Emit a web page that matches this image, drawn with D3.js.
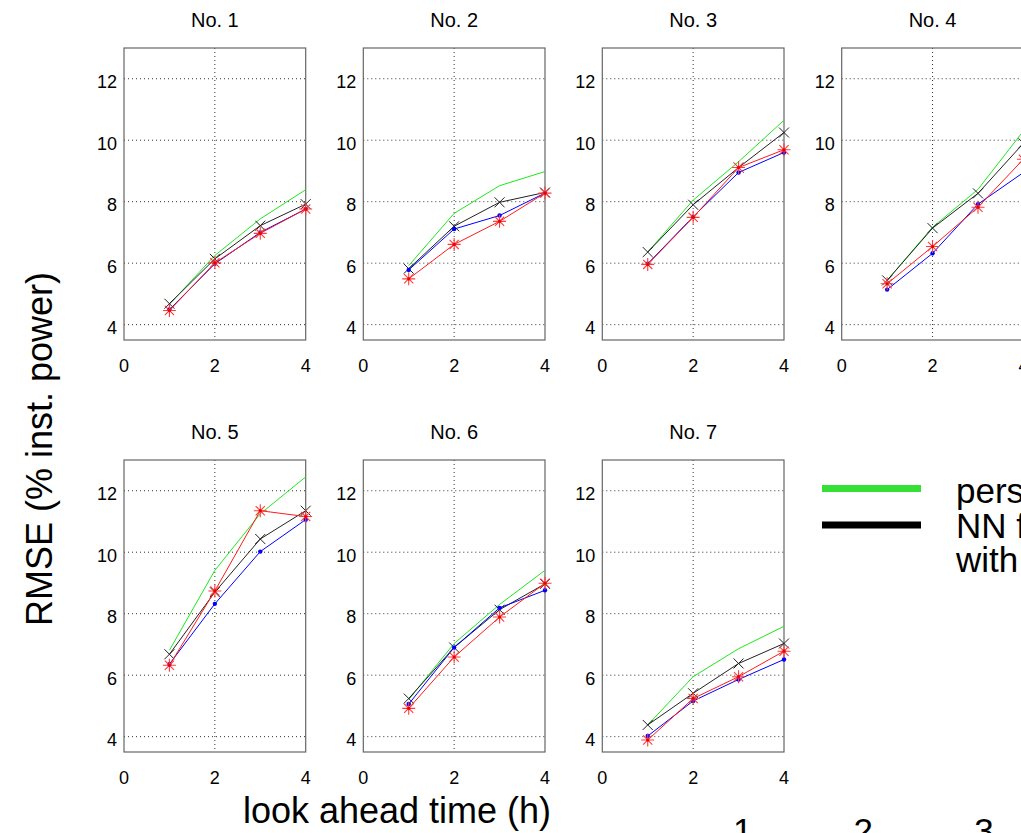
<!DOCTYPE html>
<html>
<head>
<meta charset="utf-8">
<script src="https://cdn.jsdelivr.net/npm/d3@7"></script>
<style>
  html, body { margin: 0; padding: 0; background: #fff; overflow: hidden; }
  svg { display: block; font-family: "Liberation Sans", Arial, sans-serif; }
</style>
</head>
<body>
<svg id="chart" width="1021" height="833"></svg>
<script>
// look ahead times (h) and panel titles
const leadTimes = [1, 2, 3, 4];
const panelTitles = ['No. 1', 'No. 2', 'No. 3', 'No. 4', 'No. 5', 'No. 6', 'No. 7'];
const xTicks = [0, 2, 4];
const yTicks = [4, 6, 8, 10, 12];

// RMSE per panel (rows = panels No. 1..7, cols = lead time 1..4)
const rmsePersistence = [
  [4.66, 6.25, 7.44, 8.39],
  [5.92, 7.62, 8.52, 8.98],
  [6.36, 8.05, 9.30, 10.65],
  [5.44, 7.17, 8.40, 10.30],
  [6.81, 9.41, 11.25, 12.45],
  [5.21, 7.03, 8.30, 9.41],
  [4.38, 5.95, 6.86, 7.59]
];
const rmseNN = [
  [4.68, 6.14, 7.22, 7.92],
  [5.82, 7.20, 7.98, 8.30],
  [6.36, 7.90, 9.11, 10.25],
  [5.44, 7.14, 8.27, 9.90],
  [6.68, 8.70, 10.43, 11.35],
  [5.24, 6.90, 8.13, 8.97],
  [4.38, 5.41, 6.38, 7.03]
];
const rmseBlue = [
  [4.49, 5.98, 7.00, 7.76],
  [5.78, 7.11, 7.55, 8.28],
  [5.98, 7.51, 8.95, 9.60],
  [5.14, 6.32, 7.92, 8.95],
  [6.36, 8.32, 10.02, 11.06],
  [5.06, 6.90, 8.19, 8.76],
  [4.02, 5.16, 5.86, 6.51]
];
const rmseRed = [
  [4.46, 6.01, 6.97, 7.76],
  [5.49, 6.61, 7.36, 8.28],
  [5.96, 7.49, 9.11, 9.69],
  [5.33, 6.54, 7.82, 9.38],
  [6.32, 8.74, 11.35, 11.16],
  [4.92, 6.59, 7.89, 8.99],
  [3.89, 5.24, 5.95, 6.78]
];
const legendLabels = ['persistence', 'NN forecast', 'with NWP'];
const bottomTickLabels = ['1', '2', '3'];

// layout
const colLeft = [124, 363.3, 602.3, 841.7];
const rowTop = [48, 460];
const panelW = 181.7;
const panelH = 292;

const svg = d3.select('#chart');

const x = d3.scaleLinear().domain([0, 4]).range([0, panelW]);
const y = d3.scaleLinear().domain([3.5, 13]).range([panelH, 0]);

const line = d3.line()
  .x((d, i) => x(leadTimes[i]))
  .y(d => y(d));

const series = [
  { data: rmsePersistence, color: '#1ee81e', marker: null },
  { data: rmseNN, color: '#222', marker: 'x' },
  { data: rmseBlue, color: '#0000ff', marker: 'dot' },
  { data: rmseRed, color: '#ff1a1a', marker: 'star' }
];

panelTitles.forEach((title, p) => {
  const g = svg.append('g')
    .attr('transform', `translate(${colLeft[p % 4]},${rowTop[Math.floor(p / 4)]})`);

  // grid
  g.selectAll('.gy').data(yTicks).enter().append('line')
    .attr('x1', 0).attr('x2', panelW)
    .attr('y1', d => y(d)).attr('y2', d => y(d))
    .attr('stroke', '#333').attr('stroke-width', 1)
    .attr('stroke-dasharray', '1,3');
  g.selectAll('.gx').data(xTicks.slice(1, -1)).enter().append('line')
    .attr('x1', d => x(d)).attr('x2', d => x(d))
    .attr('y1', 0).attr('y2', panelH)
    .attr('stroke', '#333').attr('stroke-width', 1)
    .attr('stroke-dasharray', '1,3');

  // frame
  g.append('rect')
    .attr('x', 0).attr('y', 0)
    .attr('width', panelW).attr('height', panelH)
    .attr('fill', 'none').attr('stroke', '#666').attr('stroke-width', 1.2);

  // tick labels
  g.selectAll('.xl').data(xTicks).enter().append('text')
    .attr('x', d => x(d)).attr('y', panelH + 32)
    .attr('text-anchor', 'middle').attr('font-size', 18)
    .text(d => d);
  g.selectAll('.yl').data(yTicks).enter().append('text')
    .attr('x', -7).attr('y', d => y(d) + 9.5)
    .attr('text-anchor', 'end').attr('font-size', 18)
    .text(d => d);

  // title
  g.append('text')
    .attr('x', panelW / 2).attr('y', -21.5)
    .attr('text-anchor', 'middle').attr('font-size', 20)
    .text(title);

  // series
  series.forEach(s => {
    const vals = s.data[p];
    g.append('path')
      .attr('d', line(vals))
      .attr('fill', 'none')
      .attr('stroke', s.color)
      .attr('stroke-width', 1);

    if (s.marker === 'dot') {
      g.selectAll(null).data(vals).enter().append('circle')
        .attr('cx', (d, i) => x(leadTimes[i])).attr('cy', d => y(d))
        .attr('r', 2.2).attr('fill', s.color);
    } else if (s.marker === 'x') {
      const r = 5;
      g.selectAll(null).data(vals).enter().append('path')
        .attr('transform', (d, i) => `translate(${x(leadTimes[i])},${y(d)})`)
        .attr('d', `M${-r},${-r}L${r},${r}M${-r},${r}L${r},${-r}`)
        .attr('stroke', s.color).attr('stroke-width', 1);
    } else if (s.marker === 'star') {
      const r = 6.5, q = 4.6;
      const gs = g.selectAll(null).data(vals).enter().append('g')
        .attr('transform', (d, i) => `translate(${x(leadTimes[i])},${y(d)})`);
      gs.append('path')
        .attr('d', `M${-r},0L${r},0M0,${-r}L0,${r}M${-q},${-q}L${q},${q}M${-q},${q}L${q},${-q}`)
        .attr('stroke', '#ff3b3b').attr('stroke-width', 1.1);
      gs.append('circle').attr('r', 1.6).attr('fill', '#e00');
    }
  });
});

// axis labels
svg.append('text')
  .attr('transform', 'translate(52,449) rotate(-90)')
  .attr('text-anchor', 'middle').attr('font-size', 36)
  .text('RMSE (% inst. power)');

svg.append('text')
  .attr('x', 397).attr('y', 822.5)
  .attr('text-anchor', 'middle').attr('font-size', 36)
  .text('look ahead time (h)');

// legend (partially cut off at the right edge)
const legendColors = ['#33e033', '#000'];
const legend = svg.append('g').attr('transform', 'translate(822,0)');
legendColors.forEach((c, i) => {
  legend.append('line')
    .attr('x1', 0).attr('x2', 99)
    .attr('y1', [488.5, 525][i]).attr('y2', [488.5, 525][i])
    .attr('stroke', c).attr('stroke-width', 7);
});
legendLabels.forEach((t, i) => {
  legend.append('text')
    .attr('x', 134).attr('y', 503 + i * 34.5)
    .attr('font-size', 35)
    .text(t);
});

// bottom tick labels of an axis cut off by the picture edge
const bottomX = d3.scalePoint().domain(bottomTickLabels).range([742.7, 984]);
svg.selectAll('.bt').data(bottomTickLabels).enter().append('text')
  .attr('x', d => bottomX(d)).attr('y', 843)
  .attr('text-anchor', 'middle').attr('font-size', 35)
  .text(d => d);
</script>
</body>
</html>
